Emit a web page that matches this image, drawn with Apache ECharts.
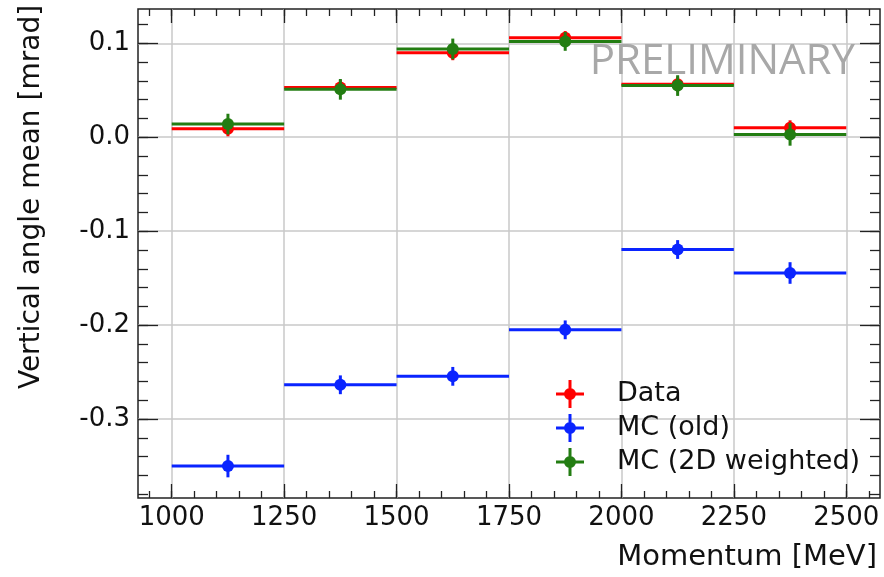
<!DOCTYPE html>
<html>
<head>
<meta charset="utf-8">
<script src="https://cdn.jsdelivr.net/npm/echarts@6/dist/echarts.min.js"></script>
<style>html,body{margin:0;padding:0;background:#fff}#c{width:884px;height:577px}</style>
</head>
<body>
<div id="c"></div>
<script>
// ---- data ----
const binEdges = [1000, 1250, 1500, 1750, 2000, 2250, 2500];
const dataVals = [0.009, 0.053, 0.090, 0.106, 0.0565, 0.010];
const dataErrs = [0.008, 0.008, 0.008, 0.007, 0.008, 0.008];
const mcOldVals = [-0.350, -0.2635, -0.2545, -0.205, -0.1195, -0.1445];
const mcOldErrs = [0.012, 0.010, 0.010, 0.010, 0.010, 0.0115];
const mc2dVals = [0.014, 0.051, 0.094, 0.102, 0.055, 0.003];
const mc2dErrs = [0.011, 0.011, 0.011, 0.010, 0.011, 0.012];
const seriesNames = ['Data', 'MC (old)', 'MC (2D weighted)'];
const xTickLabels = [1000, 1250, 1500, 1750, 2000, 2250, 2500];
const yTickLabels = [-0.3, -0.2, -0.1, 0.0, 0.1];

const X_MIN = 925, X_MAX = 2575, Y_MIN = -0.384, Y_MAX = 0.1365;
const xMinor = []; for (let v = 950; v <= 2550; v += 50) xMinor.push(v);
const yMinor = []; for (let i = -19; i <= 6; i++) yMinor.push(+(i * 0.02).toFixed(2));

const colors = ['#ff0000', '#0a24ff', '#237d12'];
const FONT = 'DejaVu Sans';

function rows(vals, errs) {
  return vals.map((v, i) => [binEdges[i], binEdges[i + 1], v, errs[i]]);
}

function renderItem(params, api) {
  const lo = api.value(0), hi = api.value(1), v = api.value(2), e = api.value(3);
  const mid = (lo + hi) / 2;
  const p1 = api.coord([lo, v]), p2 = api.coord([hi, v]);
  const c = api.coord([mid, v]);
  const t = api.coord([mid, v + e]), b = api.coord([mid, v - e]);
  const color = api.visual('color');
  return {
    type: 'group',
    children: [
      { type: 'line', shape: { x1: p1[0], y1: p1[1], x2: p2[0], y2: p2[1] }, style: { stroke: color, lineWidth: 3 } },
      { type: 'line', shape: { x1: t[0], y1: t[1], x2: b[0], y2: b[1] }, style: { stroke: color, lineWidth: 3 } },
      { type: 'circle', shape: { cx: c[0], cy: c[1], r: 6 }, style: { fill: color } }
    ]
  };
}

function xAxisDef(pos, vals, len, opts) {
  return Object.assign({
    type: 'value', position: pos, min: X_MIN, max: X_MAX,
    axisLine: { show: false, onZero: false },
    axisTick: { show: true, inside: true, length: len, customValues: vals, lineStyle: { color: '#222', width: 1.3 } },
    axisLabel: { show: false },
    splitLine: { show: false }
  }, opts || {});
}
function yAxisDef(pos, vals, len, opts) {
  return Object.assign({
    type: 'value', position: pos, min: Y_MIN, max: Y_MAX,
    axisLine: { show: false, onZero: false },
    axisTick: { show: true, inside: true, length: len, customValues: vals, lineStyle: { color: '#222', width: 1.3 } },
    axisLabel: { show: false },
    splitLine: { show: false }
  }, opts || {});
}

const xAxes = [
  xAxisDef('bottom', xTickLabels, 14, {
    axisLabel: { show: true, customValues: xTickLabels, margin: 7, fontFamily: FONT, fontSize: 26, color: '#111',
      formatter: v => String(v) },
    splitLine: { show: true, lineStyle: { color: '#c8c8c8', width: 1.5 } }
  }),
  xAxisDef('bottom', xMinor, 7),
  xAxisDef('top', xTickLabels, 14),
  xAxisDef('top', xMinor, 7)
];
const yAxes = [
  yAxisDef('left', yTickLabels, 20, {
    axisLabel: { show: true, customValues: yTickLabels, margin: 8, fontFamily: FONT, fontSize: 26, color: '#111',
      formatter: v => v.toFixed(1) },
    splitLine: { show: true, lineStyle: { color: '#c8c8c8', width: 1.5 } }
  }),
  yAxisDef('left', yMinor, 10),
  yAxisDef('right', yTickLabels, 20),
  yAxisDef('right', yMinor, 10)
];

const iconPath = 'path://M0 12.5H28V15.5H0Z M12.5 0H15.5V28H12.5Z M8 14A6 6 0 1 1 20 14A6 6 0 1 1 8 14Z';

const option = {
  animation: false,
  color: colors,
  grid: { left: 138, right: 4, top: 9, bottom: 79, show: true, borderColor: '#222', borderWidth: 1.5, backgroundColor: 'transparent' },
  xAxis: xAxes,
  yAxis: yAxes,
  legend: {
    orient: 'vertical', left: 551, top: 375, itemWidth: 28, itemHeight: 28, itemGap: 6,
    data: seriesNames.map(n => ({ name: n, icon: iconPath })),
    textStyle: { fontFamily: FONT, fontSize: 27, color: '#111', padding: [0, 0, 0, 28] }
  },
  graphic: [
    { type: 'text', x: 32, y: 197, rotation: Math.PI / 2,
      style: { text: 'Vertical angle mean [mrad]', fontFamily: FONT, fontSize: 28, fill: '#111', align: 'center', verticalAlign: 'middle' } },
    { type: 'text', x: 877, y: 557,
      style: { text: 'Momentum [MeV]', fontFamily: FONT, fontSize: 29, fill: '#111', align: 'right', verticalAlign: 'middle' } },
    { type: 'text', x: 855, y: 62, z: 100,
      style: { text: 'PRELIMINARY', fontFamily: 'Open Sans', fontSize: 42, fill: '#a8a8a8', align: 'right', verticalAlign: 'middle' } }
  ],
  series: [
    { name: seriesNames[0], type: 'custom', renderItem, data: rows(dataVals, dataErrs), encode: { x: [0, 1], y: 2 }, itemStyle: { color: colors[0] } },
    { name: seriesNames[1], type: 'custom', renderItem, data: rows(mcOldVals, mcOldErrs), encode: { x: [0, 1], y: 2 }, itemStyle: { color: colors[1] } },
    { name: seriesNames[2], type: 'custom', renderItem, data: rows(mc2dVals, mc2dErrs), encode: { x: [0, 1], y: 2 }, itemStyle: { color: colors[2] } }
  ]
};
echarts.init(document.getElementById('c'), null, { renderer: 'canvas' }).setOption(option);
</script>
</body>
</html>
